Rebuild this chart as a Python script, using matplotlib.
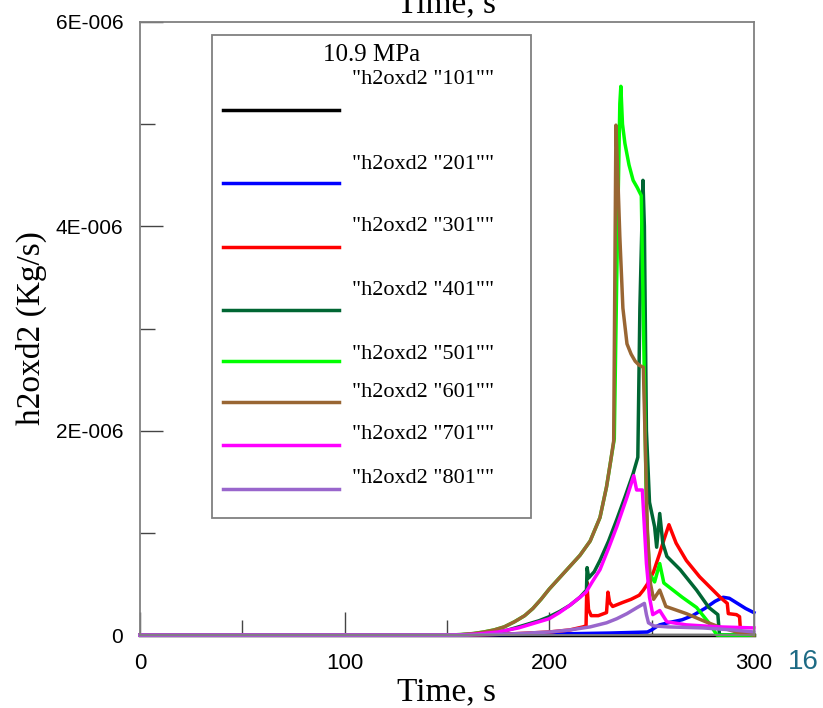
#h2oxd2 mass flow vs time, 10.9 MPa case
import matplotlib
matplotlib.use('Agg')
import matplotlib.pyplot as plt
import numpy as np
from matplotlib.patches import Rectangle

#series data, time [s] and value [1E-6 Kg/s]
labels = ['"h2oxd2 "101""', '"h2oxd2 "201""', '"h2oxd2 "301""', '"h2oxd2 "401""',
          '"h2oxd2 "501""', '"h2oxd2 "601""', '"h2oxd2 "701""', '"h2oxd2 "801""']
colors = ['#000000', '#0000ff', '#ff0000', '#006633',
          '#00ff00', '#996633', '#ff00ff', '#9966cc']

t101 = [0, 300]
v101 = [0, 0]

t201 = [0, 150, 200, 230, 248, 250, 253, 254, 258, 265, 270, 276, 281, 285, 288, 292, 296, 300]
v201 = [0, 0, 0.01, 0.02, 0.03, 0.05, 0.09, 0.10, 0.12, 0.15, 0.19, 0.26, 0.33, 0.37, 0.36, 0.31, 0.26, 0.22]

t301 = [0, 160, 170, 180, 190, 200, 210, 216.5, 218, 218.4, 219.2, 220.5, 224, 228, 228.7, 229.5, 231,
        236, 240, 244, 246, 248, 251, 254, 256, 258.5, 262, 267, 273.5, 280, 283.5, 287, 287.5,
        291.5, 293, 293.6, 300]
v301 = [0, 0, 0.005, 0.01, 0.02, 0.03, 0.05, 0.08, 0.09, 0.52, 0.25, 0.19, 0.19, 0.22, 0.42, 0.32, 0.28,
        0.32, 0.35, 0.39, 0.44, 0.50, 0.62, 0.80, 0.93, 1.08, 0.90, 0.73, 0.57, 0.44, 0.37, 0.31, 0.21,
        0.20, 0.18, 0.0, 0.0]

t401 = [0, 150, 160, 165, 170, 175, 180, 185, 190, 195, 200, 205, 210, 215, 218.2, 218.5, 219.3, 222,
        224.8, 229, 233, 237, 241, 243.3, 244.3, 245.8, 246.5, 247.5, 249, 251.5, 252.5, 254, 255.5,
        257.5, 264, 272, 278, 282.4, 283.2, 300]
v401 = [0, 0, 0.005, 0.01, 0.02, 0.03, 0.05, 0.08, 0.11, 0.14, 0.18, 0.23, 0.29, 0.37, 0.44, 0.66, 0.56, 0.62,
        0.73, 0.92, 1.13, 1.35, 1.58, 1.74, 3.2, 4.45, 4.0, 2.0, 1.3, 1.06, 0.86, 1.19, 0.90,
        0.77, 0.64, 0.44, 0.27, 0.20, 0.0, 0.0]

t501 = [0, 150, 157, 163, 168, 173, 178, 183, 188, 192, 196, 200, 205, 210, 215, 220, 224.8, 228, 230,
        231.8, 233, 234.5, 235, 235.8, 237, 239, 241, 243, 245, 246.5, 247.5, 249, 251.5, 254, 256,
        265, 272, 278, 282, 300]
v501 = [0, 0, 0.005, 0.015, 0.03, 0.05, 0.08, 0.13, 0.19, 0.26, 0.35, 0.45, 0.56, 0.67, 0.78, 0.92, 1.15,
        1.45, 1.70, 1.92, 3.5, 5.2, 5.37, 5.0, 4.81, 4.6, 4.45, 4.38, 4.3, 2.5, 1.2, 0.6, 0.52, 0.70,
        0.51, 0.37, 0.27, 0.12, 0.0, 0.0]

t601 = [0, 150, 157, 163, 168, 173, 178, 183, 188, 192, 196, 200, 205, 210, 215, 220, 224.8, 228, 230,
        231.5, 232.6, 233.5, 234.5, 236, 238, 240, 242, 244, 246, 248, 249.5, 251, 254, 257, 267,
        276.5, 283, 291.5, 300]
v601 = [0, 0, 0.005, 0.015, 0.03, 0.05, 0.08, 0.13, 0.19, 0.26, 0.35, 0.45, 0.56, 0.67, 0.78, 0.92, 1.15,
        1.45, 1.70, 1.90, 4.99, 4.5, 3.9, 3.2, 2.85, 2.75, 2.68, 2.64, 2.62, 1.0, 0.5, 0.35, 0.44, 0.28,
        0.21, 0.13, 0.08, 0.03, 0.0]

t701 = [0, 150, 160, 165, 170, 175, 180, 185, 190, 195, 200, 205, 210, 215, 218, 221, 224.8, 229, 233,
        238, 241.3, 242.7, 245.5, 247.5, 249, 250.6, 254, 257.5, 267, 283, 300]
v701 = [0, 0, 0.005, 0.01, 0.02, 0.03, 0.05, 0.07, 0.10, 0.13, 0.16, 0.22, 0.29, 0.37, 0.42, 0.52, 0.64,
        0.85, 1.06, 1.35, 1.56, 1.42, 1.42, 0.70, 0.37, 0.20, 0.24, 0.13, 0.10, 0.08, 0.07]

t801 = [0, 160, 180, 200, 210, 220, 228, 233, 238, 243, 246.5, 247.5, 248.5, 251, 258, 275, 290, 300]
v801 = [0, 0, 0.01, 0.03, 0.05, 0.08, 0.12, 0.16, 0.21, 0.27, 0.31, 0.20, 0.12, 0.09, 0.08, 0.07, 0.05, 0.03]

times = [t101, t201, t301, t401, t501, t601, t701, t801]
values = [v101, v201, v301, v401, v501, v601, v701, v801]

#axis ticks
xmajor = [0, 100, 200, 300]
xminor = [50, 150, 250]
ymajor = [0, 2e-6, 4e-6, 6e-6]
ymajor_labels = ['0', '2E-006', '4E-006', '6E-006']
yminor = [1e-6, 3e-6, 5e-6]

serif = ['Liberation Serif', 'DejaVu Serif']
sans = ['Liberation Sans', 'DejaVu Sans']

fig = plt.figure(figsize=(8.23, 7.08), dpi=100)
ax = fig.add_axes([0.170, 0.103, 0.746, 0.866])

#draw curves
for t, v, c in zip(times, values, colors):
  ax.plot(t, np.array(v) * 1e-6, color=c, lw=2.5, clip_on=False,
          solid_joinstyle='round')

ax.set_xlim(0, 300)
ax.set_ylim(0, 6e-6)
ax.set_xticks(xmajor)
ax.set_xticks(xminor, minor=True)
ax.set_xticklabels([str(x) for x in xmajor])
ax.set_yticks(ymajor)
ax.set_yticks(yminor, minor=True)
ax.set_yticklabels(ymajor_labels)
ax.tick_params(which='major', direction='in', length=16.5, width=1, color='#444444',
               top=False, right=False)
ax.tick_params(which='minor', direction='in', length=11, width=1, color='#444444',
               top=False, right=False)
ax.tick_params(axis='y', which='major', pad=12, labelsize=15)
ax.tick_params(axis='x', which='major', pad=13, labelsize=16)
for lab in ax.get_xticklabels() + ax.get_yticklabels():
  lab.set_family(sans)
for sp in ax.spines.values():
  sp.set_color('#808080')
  sp.set_linewidth(1.3)

#axis labels
ax.set_xlabel('Time, s', family=serif, fontsize=24, labelpad=2)
ax.set_ylabel('h2oxd2 (Kg/s)', family=serif, fontsize=24)
ax.yaxis.set_label_coords(-0.151, 0.501)
fig.text(0.543, 0.983, 'Time, s', family=serif, fontsize=24, ha='center', va='baseline')

#hand made legend box
ax.add_patch(Rectangle((0.1173, 0.1909), 0.5195, 0.7879, transform=ax.transAxes,
                       facecolor='white', edgecolor='#808080', lw=1.3, zorder=5))
ax.text(0.377, 0.946, '10.9 MPa', transform=ax.transAxes, family=serif, fontsize=18,
        ha='center', va='center', zorder=6)
line_y = [0.8564, 0.7374, 0.6330, 0.5302, 0.4470, 0.3801, 0.3100, 0.2382]
text_y = [0.9054, 0.7667, 0.6656, 0.5628, 0.4568, 0.3964, 0.3279, 0.2561]
for lab, c, ly, ty in zip(labels, colors, line_y, text_y):
  ax.plot([0.135, 0.324], [ly, ly], transform=ax.transAxes, color=c, lw=2.5, zorder=6)
  ax.text(0.345, ty, lab, transform=ax.transAxes, family=serif, fontsize=16,
          ha='left', va='center', zorder=6)

#slide number
fig.text(0.976, 0.065, '16', color='#1d6b85', family=sans, fontsize=20, ha='center', va='center')

plt.savefig('out.png', dpi=100)
